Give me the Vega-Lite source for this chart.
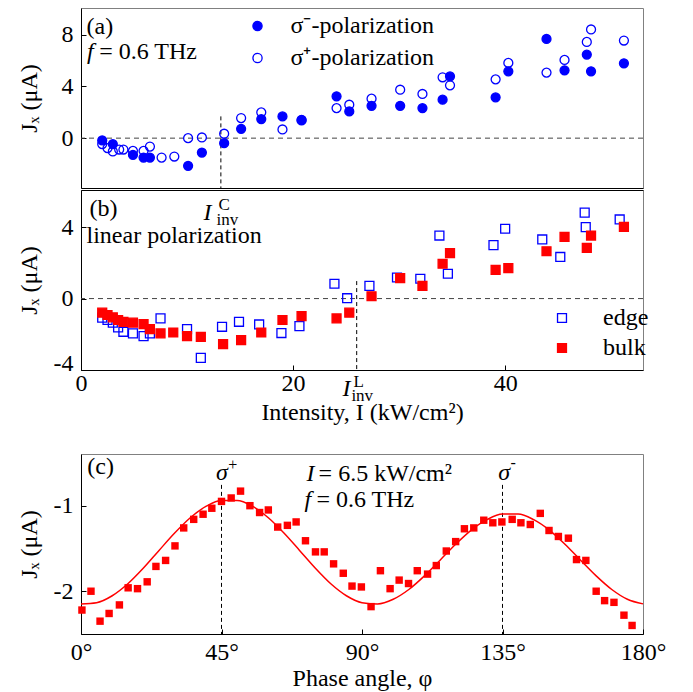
{
 "$schema": "https://vega.github.io/schema/vega-lite/v6.json",
 "padding": {"left": 17, "top": 7, "right": 0, "bottom": 0},
 "background": "white",
 "config": {
  "font": "Liberation Serif, Times New Roman, serif",
  "view": {"stroke": "#808080", "strokeWidth": 1},
  "axis": {"grid": false, "labelFont": "Liberation Serif, Times New Roman, serif", "labelFontSize": 24, "labelColor": "#000", "titleFont": "Liberation Serif, Times New Roman, serif", "titleFontSize": 24, "titleFontWeight": "normal", "titleColor": "#000", "domainColor": "#000", "domainWidth": 1, "tickColor": "#000", "tickSize": -5, "tickWidth": 1, "labelFlush": false, "labelOverlap": false},
  "legend": {"labelFont": "Liberation Serif, Times New Roman, serif", "labelFontSize": 24, "labelColor": "#000", "padding": 0, "titlePadding": 0},
  "text": {"font": "Liberation Serif, Times New Roman, serif", "fontSize": 24, "color": "#000"}
 },
 "datasets": {
  "a": [
   {"x":2.0,"y":-0.18,"s":"σ⁻-polarization"},{"x":3.0,"y":-0.46,"s":"σ⁻-polarization"},{"x":4.9,"y":-1.29,"s":"σ⁻-polarization"},{"x":5.9,"y":-1.50,"s":"σ⁻-polarization"},{"x":6.5,"y":-1.50,"s":"σ⁻-polarization"},{"x":10.1,"y":-2.14,"s":"σ⁻-polarization"},{"x":11.4,"y":-1.11,"s":"σ⁻-polarization"},{"x":13.5,"y":-0.39,"s":"σ⁻-polarization"},{"x":15.1,"y":0.72,"s":"σ⁻-polarization"},{"x":17.0,"y":1.47,"s":"σ⁻-polarization"},{"x":19.0,"y":1.68,"s":"σ⁻-polarization"},{"x":20.8,"y":1.42,"s":"σ⁻-polarization"},{"x":24.1,"y":3.23,"s":"σ⁻-polarization"},{"x":25.3,"y":2.06,"s":"σ⁻-polarization"},{"x":27.4,"y":2.50,"s":"σ⁻-polarization"},{"x":30.1,"y":2.50,"s":"σ⁻-polarization"},{"x":32.2,"y":2.32,"s":"σ⁻-polarization"},{"x":34.1,"y":2.97,"s":"σ⁻-polarization"},{"x":34.8,"y":4.77,"s":"σ⁻-polarization"},{"x":39.1,"y":3.15,"s":"σ⁻-polarization"},{"x":40.3,"y":5.16,"s":"σ⁻-polarization"},{"x":43.9,"y":7.66,"s":"σ⁻-polarization"},{"x":45.6,"y":5.24,"s":"σ⁻-polarization"},{"x":47.7,"y":6.45,"s":"σ⁻-polarization"},{"x":48.1,"y":5.16,"s":"σ⁻-polarization"},{"x":51.2,"y":5.78,"s":"σ⁻-polarization"},
   {"x":2.0,"y":-0.46,"s":"σ⁺-polarization"},{"x":2.5,"y":-0.77,"s":"σ⁺-polarization"},{"x":3.0,"y":-1.03,"s":"σ⁺-polarization"},{"x":3.6,"y":-0.88,"s":"σ⁺-polarization"},{"x":4.0,"y":-0.88,"s":"σ⁺-polarization"},{"x":4.9,"y":-0.98,"s":"σ⁺-polarization"},{"x":5.9,"y":-0.98,"s":"σ⁺-polarization"},{"x":6.5,"y":-0.65,"s":"σ⁺-polarization"},{"x":7.6,"y":-1.50,"s":"σ⁺-polarization"},{"x":8.8,"y":-1.42,"s":"σ⁺-polarization"},{"x":10.1,"y":0.0,"s":"σ⁺-polarization"},{"x":11.4,"y":0.05,"s":"σ⁺-polarization"},{"x":13.5,"y":0.34,"s":"σ⁺-polarization"},{"x":15.1,"y":1.55,"s":"σ⁺-polarization"},{"x":17.0,"y":1.99,"s":"σ⁺-polarization"},{"x":19.0,"y":0.67,"s":"σ⁺-polarization"},{"x":20.8,"y":1.37,"s":"σ⁺-polarization"},{"x":24.1,"y":2.32,"s":"σ⁺-polarization"},{"x":25.3,"y":2.58,"s":"σ⁺-polarization"},{"x":27.4,"y":3.05,"s":"σ⁺-polarization"},{"x":30.1,"y":3.74,"s":"σ⁺-polarization"},{"x":32.2,"y":3.41,"s":"σ⁺-polarization"},{"x":34.1,"y":4.70,"s":"σ⁺-polarization"},{"x":34.8,"y":4.08,"s":"σ⁺-polarization"},{"x":39.1,"y":4.54,"s":"σ⁺-polarization"},{"x":40.3,"y":5.81,"s":"σ⁺-polarization"},{"x":43.9,"y":5.06,"s":"σ⁺-polarization"},{"x":45.6,"y":6.04,"s":"σ⁺-polarization"},{"x":47.7,"y":7.43,"s":"σ⁺-polarization"},{"x":48.1,"y":8.39,"s":"σ⁺-polarization"},{"x":51.2,"y":7.54,"s":"σ⁺-polarization"}
  ],
  "b": [
   {"x":2.0,"y":-1.07,"s":"edge"},{"x":2.5,"y":-1.20,"s":"edge"},{"x":3.0,"y":-1.35,"s":"edge"},{"x":3.5,"y":-1.62,"s":"edge"},{"x":4.0,"y":-1.86,"s":"edge"},{"x":4.9,"y":-1.95,"s":"edge"},{"x":5.9,"y":-2.10,"s":"edge"},{"x":6.5,"y":-1.95,"s":"edge"},{"x":7.5,"y":-1.11,"s":"edge"},{"x":10.0,"y":-1.71,"s":"edge"},{"x":11.3,"y":-3.32,"s":"edge"},{"x":13.3,"y":-1.58,"s":"edge"},{"x":14.9,"y":-1.30,"s":"edge"},{"x":16.8,"y":-1.45,"s":"edge"},{"x":18.9,"y":-1.93,"s":"edge"},{"x":20.6,"y":-1.54,"s":"edge"},{"x":23.9,"y":0.83,"s":"edge"},{"x":25.1,"y":0.02,"s":"edge"},{"x":27.2,"y":0.71,"s":"edge"},{"x":29.8,"y":1.18,"s":"edge"},{"x":32.0,"y":1.11,"s":"edge"},{"x":33.8,"y":3.53,"s":"edge"},{"x":34.6,"y":1.39,"s":"edge"},{"x":38.9,"y":2.99,"s":"edge"},{"x":40.0,"y":3.91,"s":"edge"},{"x":43.5,"y":3.31,"s":"edge"},{"x":45.2,"y":2.33,"s":"edge"},{"x":47.5,"y":4.81,"s":"edge"},{"x":47.6,"y":4.00,"s":"edge"},{"x":50.8,"y":4.43,"s":"edge"},
   {"x":2.0,"y":-0.79,"s":"bulk"},{"x":2.5,"y":-0.92,"s":"bulk"},{"x":3.0,"y":-1.05,"s":"bulk"},{"x":3.5,"y":-1.20,"s":"bulk"},{"x":4.0,"y":-1.30,"s":"bulk"},{"x":4.9,"y":-1.35,"s":"bulk"},{"x":5.9,"y":-1.43,"s":"bulk"},{"x":6.5,"y":-1.71,"s":"bulk"},{"x":7.5,"y":-1.95,"s":"bulk"},{"x":8.7,"y":-1.90,"s":"bulk"},{"x":10.0,"y":-2.10,"s":"bulk"},{"x":11.3,"y":-2.14,"s":"bulk"},{"x":13.4,"y":-2.55,"s":"bulk"},{"x":15.1,"y":-2.33,"s":"bulk"},{"x":17.0,"y":-1.90,"s":"bulk"},{"x":19.0,"y":-1.20,"s":"bulk"},{"x":20.8,"y":-0.98,"s":"bulk"},{"x":24.1,"y":-1.11,"s":"bulk"},{"x":25.3,"y":-0.79,"s":"bulk"},{"x":27.4,"y":0.13,"s":"bulk"},{"x":30.1,"y":1.15,"s":"bulk"},{"x":32.2,"y":0.71,"s":"bulk"},{"x":34.1,"y":1.95,"s":"bulk"},{"x":34.8,"y":2.55,"s":"bulk"},{"x":39.1,"y":1.61,"s":"bulk"},{"x":40.3,"y":1.71,"s":"bulk"},{"x":43.9,"y":2.65,"s":"bulk"},{"x":45.6,"y":3.46,"s":"bulk"},{"x":47.7,"y":2.84,"s":"bulk"},{"x":48.1,"y":3.53,"s":"bulk"},{"x":51.2,"y":4.02,"s":"bulk"}
  ],
  "c": [
   {"x":0.3,"y":-2.22},{"x":3.2,"y":-2.0},{"x":6.1,"y":-2.35},{"x":9.0,"y":-2.26},{"x":12.3,"y":-2.16},{"x":15.1,"y":-1.96},{"x":18.1,"y":-1.97},{"x":21.2,"y":-1.89},{"x":24.0,"y":-1.71},{"x":27.1,"y":-1.64},{"x":30.1,"y":-1.47},{"x":32.9,"y":-1.26},{"x":36.1,"y":-1.16},{"x":39.1,"y":-1.10},{"x":41.9,"y":-1.03},{"x":45.0,"y":-0.95},{"x":48.1,"y":-0.91},{"x":51.1,"y":-0.83},{"x":54.1,"y":-1.0},{"x":57.2,"y":-1.08},{"x":60.0,"y":-1.05},{"x":63.0,"y":-1.25},{"x":66.1,"y":-1.23},{"x":68.9,"y":-1.19},{"x":71.9,"y":-1.41},{"x":75.1,"y":-1.54},{"x":77.9,"y":-1.54},{"x":80.9,"y":-1.68},{"x":84.0,"y":-1.79},{"x":86.8,"y":-1.94},{"x":89.8,"y":-1.95},{"x":92.9,"y":-2.18},{"x":95.9,"y":-1.76},{"x":99.0,"y":-1.97},{"x":101.9,"y":-1.87},{"x":104.9,"y":-1.91},{"x":107.7,"y":-1.76},{"x":111.0,"y":-1.80},{"x":113.8,"y":-1.70},{"x":117.0,"y":-1.53},{"x":120.0,"y":-1.42},{"x":122.8,"y":-1.27},{"x":125.8,"y":-1.26},{"x":129.0,"y":-1.17},{"x":131.9,"y":-1.20},{"x":134.8,"y":-1.19},{"x":138.1,"y":-1.16},{"x":140.9,"y":-1.20},{"x":143.9,"y":-1.22},{"x":147.1,"y":-1.09},{"x":149.9,"y":-1.29},{"x":152.9,"y":-1.36},{"x":156.1,"y":-1.38},{"x":158.7,"y":-1.63},{"x":161.7,"y":-1.64},{"x":165.0,"y":-2.0},{"x":167.7,"y":-2.11},{"x":170.7,"y":-2.13},{"x":173.9,"y":-2.28},{"x":176.5,"y":-2.40}
  ],
  "cfit": [
   {"x":0,"y":-2.148},{"x":5,"y":-2.134},{"x":10,"y":-2.053},{"x":15,"y":-1.913},{"x":20,"y":-1.729},{"x":25,"y":-1.523},{"x":30,"y":-1.320},{"x":35,"y":-1.141},{"x":40,"y":-1.009},{"x":45,"y":-0.939},{"x":50,"y":-0.939},{"x":55,"y":-1.009},{"x":60,"y":-1.141},{"x":65,"y":-1.320},{"x":70,"y":-1.523},{"x":75,"y":-1.729},{"x":80,"y":-1.913},{"x":85,"y":-2.053},{"x":90,"y":-2.134},{"x":95,"y":-2.148},{"x":100,"y":-2.094},{"x":105,"y":-1.980},{"x":110,"y":-1.821},{"x":115,"y":-1.637},{"x":120,"y":-1.451},{"x":125,"y":-1.286},{"x":130,"y":-1.164},{"x":135,"y":-1.098},{"x":140,"y":-1.098},{"x":145,"y":-1.164},{"x":150,"y":-1.286},{"x":155,"y":-1.451},{"x":160,"y":-1.637},{"x":165,"y":-1.821},{"x":170,"y":-1.980},{"x":175,"y":-2.094},{"x":180,"y":-2.148}
  ]
 },
 "spacing": 28,
 "resolve": {"scale": {"fill": "independent", "stroke": "independent"}, "legend": {"fill": "independent", "stroke": "independent"}},
 "vconcat": [
  {
   "spacing": 0,
   "resolve": {"scale": {"fill": "independent", "stroke": "independent"}, "legend": {"fill": "independent", "stroke": "independent"}},
   "vconcat": [
    {
     "width": 562, "height": 180,
     "layer": [
      {"data": {"values": [{}]}, "mark": {"type": "rule", "color": "#444", "strokeDash": [5, 4], "strokeWidth": 1}, "encoding": {"y": {"datum": 0}}},
      {"data": {"values": [{"x": 13.19, "y": 1.68, "y2": -3.85}]}, "mark": {"type": "rule", "color": "#000", "strokeDash": [4, 3], "strokeWidth": 1}, "encoding": {"x": {"field": "x", "type": "quantitative"}, "y": {"field": "y", "type": "quantitative"}, "y2": {"field": "y2"}}},
      {"data": {"name": "a"}, "mark": {"type": "point", "filled": true, "stroke": "#0000ff", "strokeWidth": 1.3, "size": 80, "opacity": 1},
       "encoding": {
        "x": {"field": "x", "type": "quantitative", "scale": {"domain": [0, 53], "nice": false, "zero": false}, "axis": {"labels": false, "ticks": false, "title": null, "domain": true}},
        "y": {"field": "y", "type": "quantitative", "scale": {"domain": [-3.85, 10.05], "nice": false, "zero": false}, "axis": {"values": [0, 4, 8], "format": "d", "title": "Jₓ (μA)", "labelPadding": 13, "minExtent": 30, "maxExtent": 30, "titlePadding": 9.5, "labelExpr": "replace(datum.label, '\u2212', '-')"}},
        "fill": {"field": "s", "type": "nominal", "scale": {"domain": ["σ⁻-polarization", "σ⁺-polarization"], "range": ["#0000ff", "transparent"]}, "legend": {"orient": "none", "legendX": 164.5, "legendY": 6, "title": null, "symbolSize": 85, "symbolType": "circle", "symbolStrokeColor": "#0000ff", "symbolStrokeWidth": 1.3, "labelOffset": 21, "rowPadding": 8}}
       }},
      {"data": {"values": [{"x": 0.52, "y": 8.06, "t": "(a)"}, {"x": 1.71, "y": 6.15, "t": "= 0.6 THz"}]}, "mark": {"type": "text", "align": "left", "baseline": "alphabetic", "fontSize": 24}, "encoding": {"x": {"field": "x", "type": "quantitative"}, "y": {"field": "y", "type": "quantitative"}, "text": {"field": "t"}}},
      {"data": {"values": [{"x": 0.57, "y": 6.15, "t": "f"}]}, "mark": {"type": "text", "align": "left", "baseline": "alphabetic", "fontSize": 24, "fontStyle": "italic"}, "encoding": {"x": {"field": "x", "type": "quantitative"}, "y": {"field": "y", "type": "quantitative"}, "text": {"field": "t"}}}
     ]
    },
    {
     "width": 562, "height": 180,
     "resolve": {"axis": {"x": "independent"}},
     "layer": [
      {"data": {"values": [{}]}, "mark": {"type": "rule", "color": "#444", "strokeDash": [5, 4], "strokeWidth": 1}, "encoding": {"y": {"datum": 0}}},
      {"data": {"values": [{"x": 26.0, "y": 0.98, "y2": -4}]}, "mark": {"type": "rule", "color": "#000", "strokeDash": [4, 3], "strokeWidth": 1}, "encoding": {"x": {"field": "x", "type": "quantitative", "axis": {"orient": "top", "labels": false, "ticks": false, "title": null, "domain": true}}, "y": {"field": "y", "type": "quantitative"}, "y2": {"field": "y2"}}},
      {"data": {"name": "b"}, "mark": {"type": "square", "filled": true, "strokeWidth": 1.3, "size": 80, "opacity": 1},
       "encoding": {
        "x": {"field": "x", "type": "quantitative", "scale": {"domain": [0, 53], "nice": false, "zero": false}, "axis": {"values": [0, 20, 40], "title": "Intensity, I (kW/cm²)", "labelPadding": 6, "minExtent": 22, "maxExtent": 22, "titlePadding": 8}},
        "y": {"field": "y", "type": "quantitative", "scale": {"domain": [-4, 6.08], "nice": false, "zero": false}, "axis": {"values": [-4, 0, 4], "format": "d", "title": "Jₓ (μA)", "labelPadding": 13, "minExtent": 30, "maxExtent": 30, "titlePadding": 9.5, "labelFlush": true, "labelFlushOffset": 5, "labelExpr": "replace(datum.label, '\u2212', '-')"}},
        "fill": {"field": "s", "type": "nominal", "scale": {"domain": ["edge", "bulk"], "range": ["transparent", "#ff0000"]}, "legend": {"orient": "none", "legendX": 469, "legendY": 116, "title": null, "symbolSize": 80, "symbolType": "square", "symbolStrokeWidth": 1.3, "labelOffset": 29, "rowPadding": 6}},
        "stroke": {"field": "s", "type": "nominal", "scale": {"domain": ["edge", "bulk"], "range": ["#0000ff", "#ff0000"]}, "legend": {"orient": "none", "legendX": 469, "legendY": 116, "title": null, "symbolSize": 80, "symbolType": "square", "symbolStrokeWidth": 1.3, "labelOffset": 29, "rowPadding": 6}}
       }},
      {"data": {"values": [{"x": 0.8, "y": 4.63, "t": "(b)"}, {"x": 0.52, "y": 3.11, "t": "linear polarization"}]}, "mark": {"type": "text", "align": "left", "baseline": "alphabetic", "fontSize": 24}, "encoding": {"x": {"field": "x", "type": "quantitative", "axis": null}, "y": {"field": "y", "type": "quantitative"}, "text": {"field": "t"}}},
      {"data": {"values": [{"x": 11.56, "y": 4.4, "t": "I"}, {"x": 24.67, "y": -5.43, "t": "I"}]}, "mark": {"type": "text", "align": "left", "baseline": "alphabetic", "fontSize": 24, "fontStyle": "italic"}, "encoding": {"x": {"field": "x", "type": "quantitative", "axis": null}, "y": {"field": "y", "type": "quantitative"}, "text": {"field": "t"}}},
      {"data": {"values": [{"x": 12.78, "y": 4.12, "t": "inv"}, {"x": 12.97, "y": 4.96, "t": "C"}, {"x": 25.5, "y": -5.71, "t": "inv"}, {"x": 25.71, "y": -4.97, "t": "L"}]}, "mark": {"type": "text", "align": "left", "baseline": "alphabetic", "fontSize": 17}, "encoding": {"x": {"field": "x", "type": "quantitative", "axis": null}, "y": {"field": "y", "type": "quantitative"}, "text": {"field": "t"}}}
     ]
    }
   ]
  },
  {
   "width": 562, "height": 180,
   "layer": [
    {"data": {"values": [{"x": 45, "y": -0.757, "y2": -2.5}, {"x": 135, "y": -0.757, "y2": -2.5}]}, "mark": {"type": "rule", "color": "#000", "strokeDash": [4, 3], "strokeWidth": 1}, "encoding": {"x": {"field": "x", "type": "quantitative"}, "y": {"field": "y", "type": "quantitative"}, "y2": {"field": "y2"}}},
    {"data": {"name": "cfit"}, "mark": {"type": "line", "color": "#ff0000", "strokeWidth": 1.5, "interpolate": "monotone"}, "encoding": {"x": {"field": "x", "type": "quantitative"}, "y": {"field": "y", "type": "quantitative"}}},
    {"data": {"name": "c"}, "mark": {"type": "square", "color": "#ff0000", "size": 55, "opacity": 1},
     "encoding": {
      "x": {"field": "x", "type": "quantitative", "scale": {"domain": [0, 180], "nice": false, "zero": false}, "axis": {"values": [0, 45, 90, 135, 180], "labelExpr": "datum.value + '°'", "title": "Phase angle, φ", "labelPadding": 11.5, "minExtent": 28, "maxExtent": 28, "titlePadding": 4}},
      "y": {"field": "y", "type": "quantitative", "scale": {"domain": [-2.5, -0.396], "nice": false, "zero": false}, "axis": {"values": [-2, -1], "format": "d", "title": "Jₓ (μA)", "labelPadding": 13, "minExtent": 30, "maxExtent": 30, "titlePadding": 9.5, "labelExpr": "replace(datum.label, '\u2212', '-')"}}
     }},
    {"data": {"values": [{"x": 2.0, "y": -0.63, "t": "(c)"}, {"x": 76.1, "y": -0.71, "t": "= 6.5 kW/cm²"}, {"x": 75.4, "y": -1.02, "t": "= 0.6 THz"}]}, "mark": {"type": "text", "align": "left", "baseline": "alphabetic", "fontSize": 24}, "encoding": {"x": {"field": "x", "type": "quantitative"}, "y": {"field": "y", "type": "quantitative"}, "text": {"field": "t"}}},
    {"data": {"values": [{"x": 43.2, "y": -0.70, "t": "σ"}, {"x": 133.6, "y": -0.70, "t": "σ"}, {"x": 72.2, "y": -0.71, "t": "I"}, {"x": 71.6, "y": -1.02, "t": "f"}]}, "mark": {"type": "text", "align": "left", "baseline": "alphabetic", "fontSize": 24, "fontStyle": "italic"}, "encoding": {"x": {"field": "x", "type": "quantitative"}, "y": {"field": "y", "type": "quantitative"}, "text": {"field": "t"}}},
    {"data": {"values": [{"x": 47.2, "y": -0.58, "t": "+"}, {"x": 137.6, "y": -0.56, "t": "-"}]}, "mark": {"type": "text", "align": "left", "baseline": "alphabetic", "fontSize": 16}, "encoding": {"x": {"field": "x", "type": "quantitative"}, "y": {"field": "y", "type": "quantitative"}, "text": {"field": "t"}}}
   ]
  }
 ]
}
